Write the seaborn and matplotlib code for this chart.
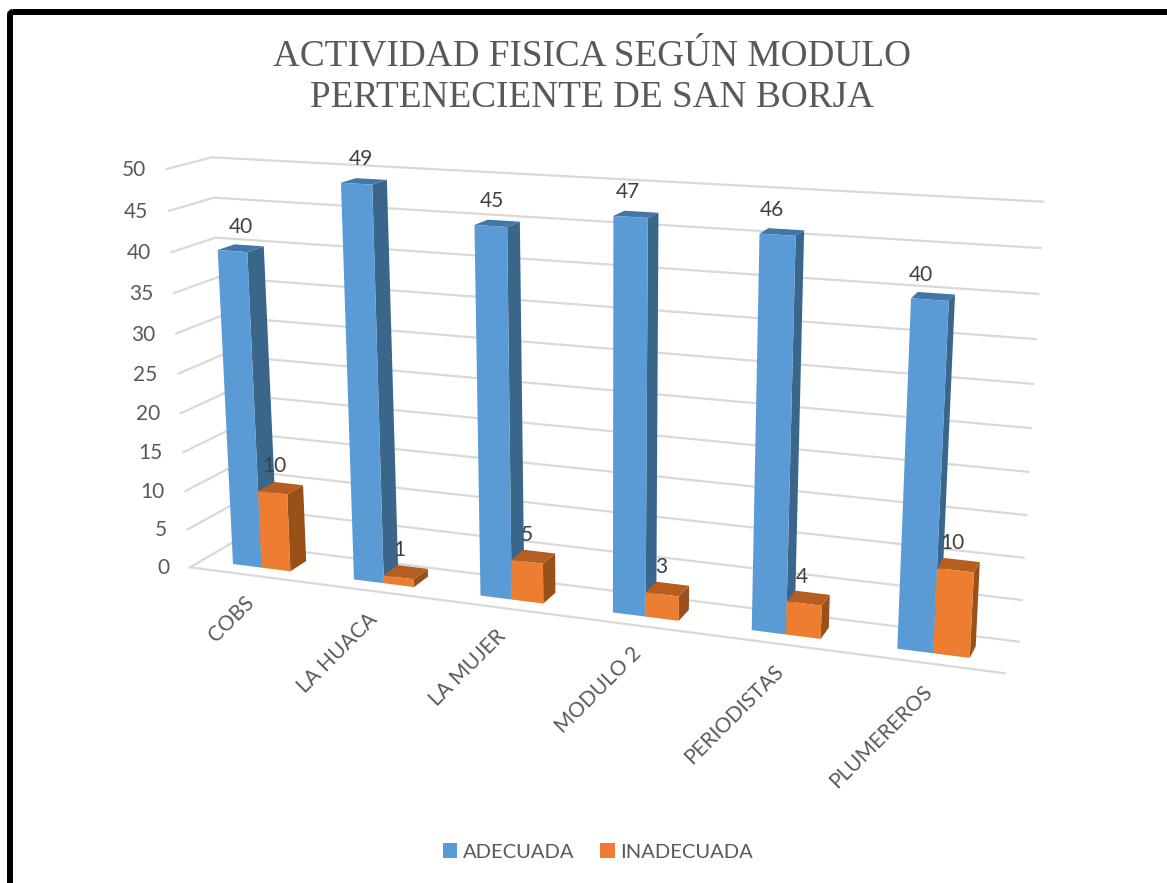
import numpy as np
import pandas as pd
import matplotlib
matplotlib.use("Agg")
import matplotlib.pyplot as plt
import seaborn as sns
from matplotlib.patches import Polygon, FancyBboxPatch
from matplotlib.transforms import Affine2D, Transform

categories = ["COBS", "LA HUACA", "LA MUJER", "MODULO 2", "PERIODISTAS", "PLUMEREROS"]
adecuada = [40, 49, 45, 47, 46, 40]
inadecuada = [10, 1, 5, 3, 4, 10]
y_ticks = [0, 5, 10, 15, 20, 25, 30, 35, 40, 45, 50]

W, H = 1167, 883
VANISH = np.array([1380.0, -140.0])
BAR_DEPTH = 0.0145


def fit_plane(src, dst):
    # 3x3 homography from 4 point pairs
    rows, rhs = [], []
    for (x, y), (u, v) in zip(src, dst):
        rows.append([x, y, 1, 0, 0, 0, -u * x, -u * y])
        rows.append([0, 0, 0, x, y, 1, -v * x, -v * y])
        rhs += [u, v]
    return np.append(np.linalg.solve(np.array(rows, float), np.array(rhs, float)), 1).reshape(3, 3)


class Plane(Transform):
    input_dims = 2
    output_dims = 2
    is_separable = False
    has_inverse = False

    def __init__(self, mat):
        super().__init__()
        self.mat = mat

    def transform_non_affine(self, values):
        values = np.asarray(values, float)
        p = np.column_stack([values, np.ones(len(values))]) @ self.mat.T
        return p[:, :2] / p[:, 2:]


def to_depth(pts, d):
    pts = np.asarray(pts, float)
    return pts + d * (VANISH - pts)


# chart planes, in picture pixels
bar_plane = Plane(fit_plane([(-0.24, 0), (-0.24, 40), (4.76, 0), (4.76, 40)],
                            [(233, 564), (217.7, 250), (897.3, 648.7), (911, 298.3)]))
front_plane = Plane(fit_plane([(-0.5, 0), (-0.5, 50), (5.5, 0), (5.5, 50)],
                              [(190, 567.3), (166.7, 169), (1005, 673.3), (1030.7, 214.4)]))
back_plane = Plane(fit_plane([(-0.5, 0), (-0.5, 50), (5.5, 0), (5.5, 50)],
                             [(231.7, 543), (211.7, 157.3), (1019, 641.7), (1043.3, 201.7)]))
pix = Affine2D().scale(1, -1).translate(0, H)

df = pd.DataFrame({
    "modulo": categories * 2,
    "valor": adecuada + inadecuada,
    "actividad": ["ADECUADA"] * 6 + ["INADECUADA"] * 6,
})

fig = plt.figure(figsize=(W / 100, H / 100), dpi=100)
ax = fig.add_axes([0, 0, 1, 1])
sns.barplot(data=df, x="modulo", y="valor", hue="actividad", width=0.48, gap=0,
            palette=["#5B9BD5", "#ED7D31"], saturation=1, ax=ax)
ax.set_axis_off()

label_font = "Lato"
grid_col = "#D9D9D9"

# wall and floor grid
for v in y_ticks:
    ax.plot([-0.5, 5.5], [v, v], color=grid_col, lw=1.6, zorder=1, transform=back_plane + pix)
    a = front_plane.transform([(-0.5, v)])[0]
    b = back_plane.transform([(-0.5, v)])[0]
    ax.plot([a[0], b[0]], [a[1], b[1]], color=grid_col, lw=1.6, zorder=1, transform=pix)
    ax.text(a[0] - 21, a[1] + 1, str(v), ha="right", va="center", fontsize=15,
            family=label_font, color="#595959", transform=pix)
ax.plot([-0.5, 5.5], [0, 0], color=grid_col, lw=1.6, zorder=1, transform=front_plane + pix)

# bars: seaborn draws the fronts, sides and tops follow from their corners
side_cols = ["#3A668C", "#9A5119"]
top_cols = ["#4176A6", "#B55E20"]
label_cols = [(8, -17, -24.5), (2, -5, -27)]
for s, cont in enumerate(ax.containers):
    for i, bar in enumerate(cont.patches):
        x0, x1 = bar.get_x(), bar.get_x() + bar.get_width()
        h = bar.get_height()
        z = 3 + 2 * i + s
        bar.set_transform(bar_plane + pix)
        bar.set_clip_on(False)
        bar.set_zorder(z + 0.2)
        c = bar_plane.transform([(x0, h), (x1, h), (x1, 0)])
        back = to_depth(c, BAR_DEPTH)
        ax.add_patch(Polygon([c[1], back[1], back[2], c[2]], fc=side_cols[s], ec="none",
                             transform=pix, clip_on=False, zorder=z))
        ax.add_patch(Polygon([c[0], back[0], back[1], c[1]], fc=top_cols[s], ec="none",
                             transform=pix, clip_on=False, zorder=z + 0.1))
        top = bar_plane.transform([((x0 + x1) / 2, h)])[0]
        dx0, dx1, dy = label_cols[s]
        ax.text(top[0] + dx0 + dx1 * i / 5, top[1] + dy, str(int(h)), ha="center", va="center",
                fontsize=15, family=label_font, color="#404040", transform=pix, zorder=40)

# category labels under the floor edge
for i, name in enumerate(categories):
    p = front_plane.transform([(i, 0)])[0]
    ax.text(p[0] + 2, p[1] + 25, name, rotation=45, rotation_mode="anchor", ha="right", va="center",
            fontsize=15, family=label_font, color="#595959", transform=pix)

fig.text(592 / W, 1 - 77 / H, "ACTIVIDAD FISICA SEGÚN MODULO\nPERTENECIENTE DE SAN BORJA",
         ha="center", va="center", fontsize=26.8, family="Liberation Serif",
         color="#595959", linespacing=1.27)

sns.move_legend(ax, "center", bbox_to_anchor=(598, 852), bbox_transform=pix, ncol=2, frameon=False,
                title=None, prop={"family": label_font, "size": 14.5}, labelcolor="#595959",
                handlelength=0.7, handleheight=0.7, handletextpad=0.3, columnspacing=1.3)

# outer frame, runs off the right and bottom of the picture
ax.add_patch(FancyBboxPatch((10, 12), W + 60, H + 60, boxstyle="round,pad=0,rounding_size=3",
                            fc="none", ec="black", lw=4.3, transform=pix, clip_on=False, zorder=50))

fig.savefig("out.png", dpi=100, facecolor="white")
